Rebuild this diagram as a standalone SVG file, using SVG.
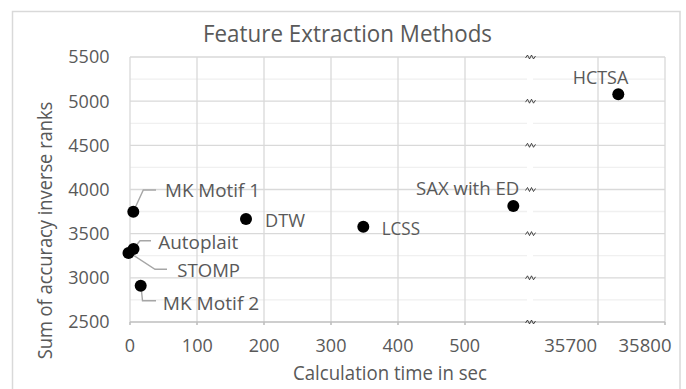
<svg xmlns="http://www.w3.org/2000/svg" width="686" height="389" viewBox="0 0 686 389">
<style>
.t{font-family:"Open Sans","Liberation Sans",sans-serif;fill:#595959}
.tick{font-size:18px}
.lab{font-size:17.5px}
.maj{stroke:#d9d9d9;stroke-width:1.3;fill:none}
.min{stroke:#f0f0f0;stroke-width:1.3;fill:none}
.ax{stroke:#bfbfbf;stroke-width:1.6;fill:none}
.zz{stroke:#222;stroke-width:0.8;fill:none}
.lead{stroke:#a6a6a6;stroke-width:1.4;fill:none}
.dot{fill:#000}
</style>
<rect x="12.5" y="11.5" width="667.5" height="392" fill="#fff" stroke="#d9d9d9" stroke-width="1.5"/>
<text class="t" x="347.5" y="41.7" font-size="23.3" text-anchor="middle" textLength="289" lengthAdjust="spacingAndGlyphs">Feature Extraction Methods</text>
<g id="grid">
<path class="min" d="M130 79.1H527M533 79.1H665M130 123.3H527M533 123.3H665M130 167.4H527M533 167.4H665M130 211.5H527M533 211.5H665M130 255.7H527M533 255.7H665M130 299.9H527M533 299.9H665"/>
<path class="maj" d="M197 57V322M264 57V322M331 57V322M398 57V322M465 57V322M598 57V322M665 57V322"/>
<path class="maj" d="M130 57H665M130 101.2H665M130 145.3H665M130 189.5H665M130 233.6H665M130 277.8H665"/>
<path class="maj" d="M130 57V322" stroke="#cfcfcf"/>
<path class="ax" d="M130 322H665M130 322V325M197 322V325M264 322V325M331 322V325M398 322V325M465 322V325M598 322V325M665 322V325"/>
<g class="zz">
<path d="M525.5 58l2-3 2 4 2-4 2 4 2-3"/>
<path d="M525.5 102.2l2-3 2 4 2-4 2 4 2-3"/>
<path d="M525.5 146.3l2-3 2 4 2-4 2 4 2-3"/>
<path d="M525.5 190.5l2-3 2 4 2-4 2 4 2-3"/>
<path d="M525.5 234.6l2-3 2 4 2-4 2 4 2-3"/>
<path d="M525.5 278.8l2-3 2 4 2-4 2 4 2-3"/>
<path d="M525.5 323l2-3 2 4 2-4 2 4 2-3"/>
</g>
</g>
<g id="y-axis" class="t tick" text-anchor="end">
<text x="109.5" y="63.3">5500</text>
<text x="109.5" y="107.5">5000</text>
<text x="109.5" y="151.6">4500</text>
<text x="109.5" y="195.8">4000</text>
<text x="109.5" y="239.9">3500</text>
<text x="109.5" y="284.1">3000</text>
<text x="109.5" y="328.3">2500</text>
</g>
<g id="x-axis" class="t tick" text-anchor="middle">
<text x="130" y="351.7">0</text>
<text x="197.3" y="351.7">100</text>
<text x="264.2" y="351.7">200</text>
<text x="331" y="351.7">300</text>
<text x="398" y="351.7">400</text>
<text x="464.7" y="351.7">500</text>
<text x="570.7" y="351.7" textLength="53" lengthAdjust="spacingAndGlyphs">35700</text>
<text x="645" y="351.7" textLength="53" lengthAdjust="spacingAndGlyphs">35800</text>
</g>
<text class="t" x="390" y="379.5" font-size="20" text-anchor="middle" textLength="194" lengthAdjust="spacingAndGlyphs">Calculation time in sec</text>
<text class="t" transform="translate(51.5,230.5) rotate(-90)" font-size="20" text-anchor="middle" textLength="257.6" lengthAdjust="spacingAndGlyphs">Sum of accuracy inverse ranks</text>
<g id="connectors">
<path class="lead" d="M133.3 211.7L143.3 190H156"/>
<path class="lead" d="M134 248L140 240.7H151"/>
<path class="lead" d="M130 253L155 269.3H167"/>
<path class="lead" d="M141 286L142.5 300.7H156"/>
</g>
<g id="mk-motif-1"><circle class="dot" cx="133.3" cy="211.7" r="6"/><text class="t lab" x="165" y="197.3" textLength="95" lengthAdjust="spacingAndGlyphs">MK Motif 1</text></g>
<g id="dtw"><circle class="dot" cx="246" cy="219" r="6"/><text class="t lab" x="265" y="227" textLength="40" lengthAdjust="spacingAndGlyphs">DTW</text></g>
<g id="autoplait"><circle class="dot" cx="133.5" cy="249" r="6"/><text class="t lab" x="158.3" y="248.7" textLength="80" lengthAdjust="spacingAndGlyphs">Autoplait</text></g>
<g id="stomp"><circle class="dot" cx="128.5" cy="253" r="6"/><text class="t lab" x="177.3" y="276.7" textLength="62.7" lengthAdjust="spacingAndGlyphs">STOMP</text></g>
<g id="mk-motif-2"><circle class="dot" cx="140.7" cy="285.7" r="6"/><text class="t lab" x="162.7" y="309.6" textLength="96.6" lengthAdjust="spacingAndGlyphs">MK Motif 2</text></g>
<g id="lcss"><circle class="dot" cx="363.3" cy="226.7" r="6"/><text class="t lab" x="381.7" y="234.5" textLength="38.3" lengthAdjust="spacingAndGlyphs">LCSS</text></g>
<g id="sax-with-ed"><circle class="dot" cx="513.3" cy="206" r="6"/><text class="t lab" x="416" y="194.5" textLength="103.3" lengthAdjust="spacingAndGlyphs">SAX with ED</text></g>
<g id="hctsa"><circle class="dot" cx="618.3" cy="94.3" r="6"/><text class="t lab" x="572.7" y="84.3" textLength="55.6" lengthAdjust="spacingAndGlyphs">HCTSA</text></g>
</svg>
